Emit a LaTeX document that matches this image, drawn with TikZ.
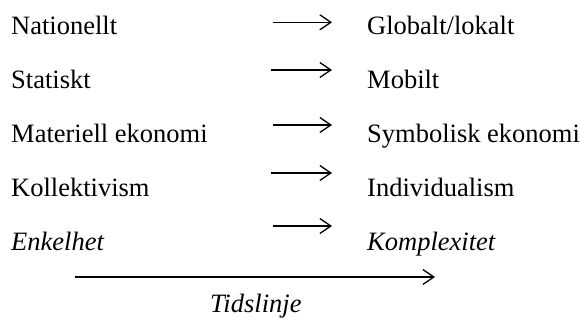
\documentclass[tikz,border=0pt]{standalone}
\usepackage{fontspec}
\setmainfont{Liberation Serif}
\usetikzlibrary{arrows.meta}
\begin{document}
\begin{tikzpicture}[x=1pt,y=1pt,
  lbl/.style={inner sep=0pt,anchor=base west,font=\fontsize{26.5}{30}\selectfont},
  ilbl/.style={lbl,font=\fontsize{26.5}{30}\selectfont\itshape},
  conn/.style={line width=1.3pt,-{Straight Barb[length=11pt,width=15pt,line width=1.3pt]}}]
\useasboundingbox (0,0) rectangle (582,-320);
% left column
\node[lbl]  (l1) at (11,-34.3) {Nationellt};
\node[lbl]  (l2) at (11,-88.3) {Statiskt};
\node[lbl]  (l3) at (11,-143) {Materiell ekonomi};
\node[lbl]  (l4) at (11,-196.7) {Kollektivism};
\node[ilbl] (l5) at (11,-251) {Enkelhet};
% right column
\node[lbl]  (r1) at (367,-34.3) {Globalt/lokalt};
\node[lbl]  (r2) at (367,-88.3) {Mobilt};
\node[lbl]  (r3) at (367,-143) {Symbolisk ekonomi};
\node[lbl]  (r4) at (367,-196.7) {Individualism};
\node[ilbl] (r5) at (367,-251) {Komplexitet};
% arrow endpoints
\coordinate (a1s) at (273,-22.3); \coordinate (a1e) at (332,-22.3);
\coordinate (a2s) at (271,-70);   \coordinate (a2e) at (332,-70);
\coordinate (a3s) at (273,-125);  \coordinate (a3e) at (332,-125);
\coordinate (a4s) at (271,-173);  \coordinate (a4e) at (332,-173);
\coordinate (a5s) at (273,-226);  \coordinate (a5e) at (332,-226);
\coordinate (ts) at (75,-277);    \coordinate (te) at (435,-277);
\draw[conn] (a1s) -- (a1e);
\draw[conn] (a2s) -- (a2e);
\draw[conn] (a3s) -- (a3e);
\draw[conn] (a4s) -- (a4e);
\draw[conn] (a5s) -- (a5e);
\draw[conn] (ts) -- (te);
\node[ilbl] (tl) at (210,-312.5) {Tidslinje};
\end{tikzpicture}
\end{document}
